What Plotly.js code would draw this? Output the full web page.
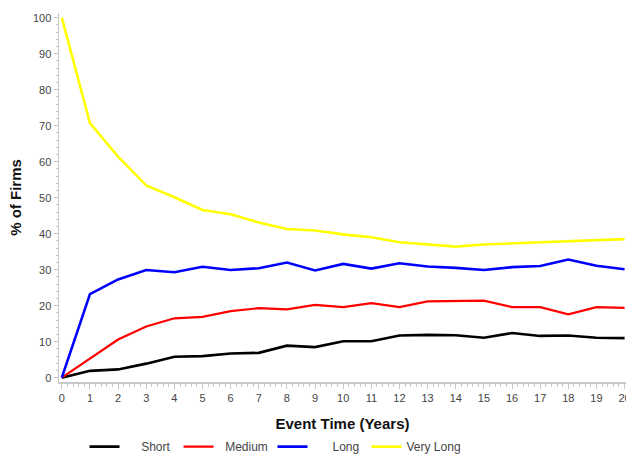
<!DOCTYPE html>
<html>
<head>
<meta charset="utf-8">
<script src="https://cdn.plot.ly/plotly-3.0.1.min.js"></script>
<style>html,body{margin:0;padding:0;background:#fff;}#chart{width:626px;height:455px;}</style>
</head>
<body>
<div id="chart"></div>
<script>
const years = [0,1,2,3,4,5,6,7,8,9,10,11,12,13,14,15,16,17,18,19,20];
const seriesNames = ["Short", "Medium", "Long", "Very Long"];
const shortVals = [0,1.9,2.3,3.9,5.8,6.0,6.7,6.9,8.9,8.5,10.1,10.1,11.7,11.9,11.8,11.1,12.4,11.6,11.7,11.1,11.0];
const mediumVals = [0,5.4,10.6,14.2,16.5,16.9,18.5,19.3,19.0,20.2,19.6,20.7,19.6,21.2,21.2,21.4,19.6,19.6,17.6,19.6,19.4];
const longVals = [0,23.2,27.3,29.9,29.3,30.8,29.9,30.4,32.0,29.8,31.6,30.3,31.8,30.9,30.5,29.9,30.7,31.0,32.8,31.1,30.1];
const veryLongVals = [100,70.7,61.4,53.4,50.1,46.6,45.4,43.1,41.3,40.9,39.8,39.0,37.6,36.9,36.4,37.0,37.3,37.5,37.7,38.1,38.5];

const colors = ["#000000", "#ff0000", "#0000ff", "#ffff00"];
const widths = [2.6, 2.2, 2.6, 2.6];
const pads = [5, 2, 6, 0];
const allVals = [shortVals, mediumVals, longVals, veryLongVals];

const nb = "\u00a0";
const traces = seriesNames.map((n, i) => ({
  x: years, y: allVals[i], type: "scatter", mode: "lines",
  name: nb.repeat(pads[i]) + n,
  line: {color: colors[i], width: widths[i]}
}));

const tickFont = {family: "Liberation Sans, Arial, sans-serif", size: 11, color: "#444"};
const layout = {
  width: 626, height: 455,
  margin: {l: 59, r: 0, t: 13, b: 73, autoexpand: false},
  paper_bgcolor: "#fff", plot_bgcolor: "#fff",
  font: {family: "Liberation Sans, Arial, sans-serif"},
  xaxis: {
    range: [-0.1, 20.05], tickmode: "linear", tick0: 0, dtick: 1,
    showgrid: false, zeroline: false, showline: true, linecolor: "#c8c8c8", linewidth: 1.5,
    ticks: "outside", ticklen: 5, tickcolor: "#c8c8c8", tickwidth: 1,
    minor: {dtick: 0.2, ticks: "outside", ticklen: 3, tickcolor: "#c8c8c8", showgrid: false},
    tickfont: tickFont, ticklabeloverflow: "allow",
    title: {text: "Event Time (Years)", font: {size: 15, color: "#111", family: "Liberation Sans, Arial, sans-serif", weight: "bold"}, standoff: 16}
  },
  yaxis: {
    range: [-1.2, 101.3], tickmode: "linear", tick0: 0, dtick: 10,
    showgrid: false, zeroline: false, showline: true, linecolor: "#c8c8c8", linewidth: 1.5,
    ticks: "outside", ticklen: 4, tickcolor: "#c8c8c8", tickwidth: 1,
    minor: {dtick: 2, ticks: "outside", ticklen: 2, tickcolor: "#c8c8c8", showgrid: false},
    tickfont: tickFont,
    title: {text: "% of Firms", font: {size: 15, color: "#111", family: "Liberation Sans, Arial, sans-serif", weight: "bold"}, standoff: 7}
  },
  showlegend: true,
  legend: {
    orientation: "h", x: 0.045, xanchor: "left", y: -0.175, yanchor: "middle",
    entrywidth: 49, entrywidthmode: "pixels",
    font: {size: 12, color: "#444", family: "Liberation Sans, Arial, sans-serif"},
    bgcolor: "rgba(0,0,0,0)"
  }
};

Plotly.newPlot("chart", traces, layout, {staticPlot: true, displayModeBar: false});
</script>
</body>
</html>
